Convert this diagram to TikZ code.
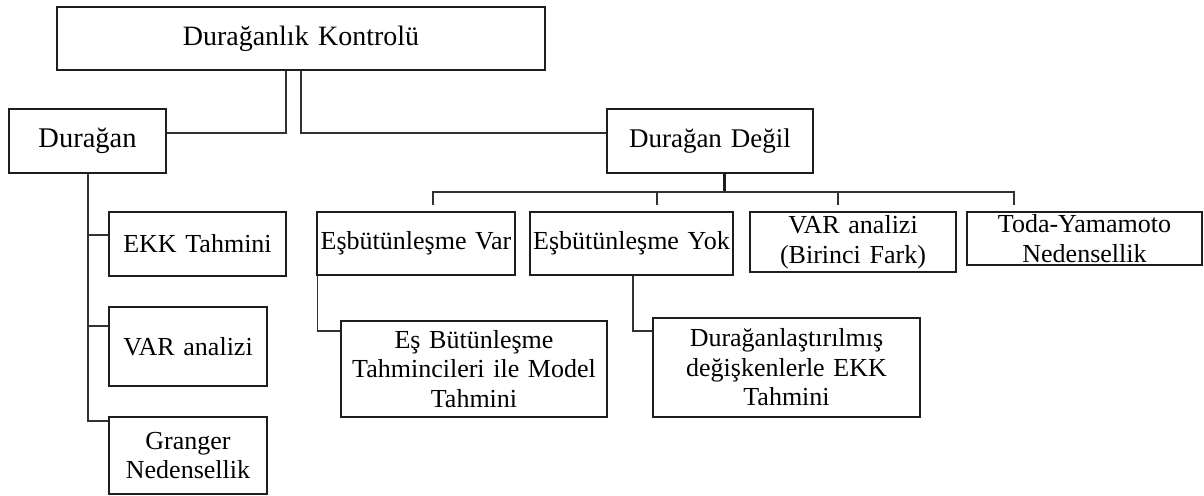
\documentclass[tikz,border=0pt]{standalone}
\usepackage{fontspec}
\setmainfont{Liberation Serif}
\definecolor{boxc}{RGB}{30,30,30}
\definecolor{linec}{RGB}{50,50,50}
\begin{document}
\begin{tikzpicture}[x=1pt,y=-1pt,
  box/.style 2 args={draw=boxc, line width=1.5pt, inner sep=0pt, align=center,
    text width=#1pt, minimum height=#2pt,
    font=\fontsize{26}{29.5}\selectfont},
  conn/.style={draw=linec, line width=1.5pt},
  thickconn/.style={draw=boxc, line width=3pt}]
\useasboundingbox[fill=white] (0,0) rectangle (1204,495);

% boxes
\node[box={488}{63}, font=\fontsize{28}{32}\selectfont] (top) at (301,38.5) {\raisebox{-2.5pt}{Durağanlık Kontrolü}};
\node[box={157}{64}, font=\fontsize{28.5}{32}\selectfont] (dur) at (87.5,141) {Durağan};
\node[box={206}{64}, font=\fontsize{27}{30}\selectfont] (degil) at (710,141) {Durağan Değil};
\node[box={177}{64}] (ekk) at (197.5,244) {EKK Tahmini};
\node[box={158}{79}] (var1) at (188,346.5) {VAR analizi};
\node[box={158}{77}] (granger) at (188,455.5) {Granger\\Nedensellik};
\node[box={198}{63}] (esvar) at (416,243.5) {Eşbütünleşme Var};
\node[box={203}{63}] (esyok) at (631.5,243.5) {Eşbütünleşme Yok};
\node[box={206}{60}] (var2) at (853,242) {VAR analizi\\(Birinci Fark)};
\node[box={235}{53}] (toda) at (1084.5,238.5) {Toda-Yamamoto\\Nedensellik};
\node[box={266}{96}] (esmodel) at (474,369) {Eş Bütünleşme\\Tahmincileri ile Model\\Tahmini};
\node[box={267}{99}] (ekk2) at (786.5,367.5) {Durağanlaştırılmış\\değişkenlerle EKK\\Tahmini};

% top level connectors
\coordinate (j1) at (286,133);
\coordinate (j2) at (301,133);
\draw[conn] (top.south -| j1) -- (j1) -- (dur.east |- j1);
\draw[conn] (top.south -| j2) -- (j2) -- (degil.west |- j2);

% left column
\coordinate (t1) at (88,235);
\coordinate (t2) at (88,326);
\coordinate (t3) at (88,421);
\draw[conn] (dur.south -| t1) -- (t3) -- (granger.west |- t3);
\draw[conn] (t1) -- (ekk.west |- t1);
\draw[conn] (t2) -- (var1.west |- t2);

% bus under Durağan Değil
\coordinate (b0) at (724,192);
\coordinate (d1) at (433,205);
\coordinate (d2) at (657,205);
\coordinate (d3) at (838,205);
\coordinate (d4) at (1014,205);
\draw[thickconn] (degil.south -| b0) -- (b0);
\draw[conn] (d1) |- (b0) -| (d4);
\draw[conn] (d2) -- (d2 |- b0);
\draw[conn] (d3) -- (d3 |- b0);

% lower connectors
\coordinate (e1) at (317.5,331);
\coordinate (e2) at (633,331);
\draw[conn] (esvar.south -| e1) -- (e1) -- (esmodel.west |- e1);
\draw[conn] (esyok.south -| e2) -- (e2) -- (ekk2.west |- e2);
\end{tikzpicture}
\end{document}
